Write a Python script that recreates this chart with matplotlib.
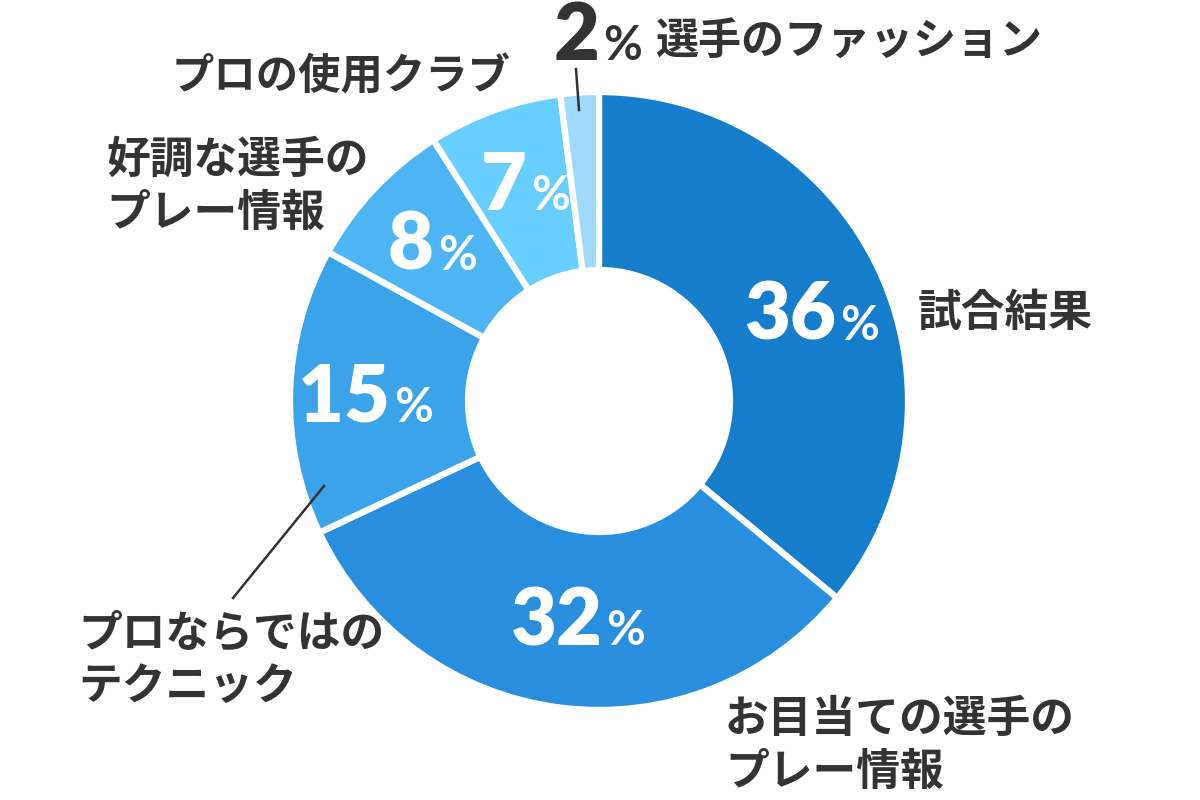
import matplotlib
matplotlib.use("Agg")
import matplotlib.pyplot as plt

categories = ["試合結果", "お目当ての選手の\nプレー情報", "プロならではの\nテクニック",
              "好調な選手の\nプレー情報", "プロの使用クラブ", "選手のファッション"]
values = [36, 32, 15, 8, 7, 2]
colors = ["#167dcd", "#2a8ede", "#3ba3ea", "#4db5f3", "#68cdff", "#9fd9fb"]

W, H = 1200, 800
fig = plt.figure(figsize=(12, 8), dpi=100)
ax = fig.add_axes([0, 0, 1, 1])
ax.set_xlim(0, W)
ax.set_ylim(0, H)
ax.set_aspect("equal")
ax.axis("off")

def Y(y):
    return H - y

cx, cy, R, r_in = 599, Y(401), 309, 131
ax.pie(values, colors=colors, startangle=90, counterclock=False,
       center=(cx, cy), radius=R, frame=True,
       wedgeprops=dict(width=R - r_in, edgecolor="white", linewidth=4.5))
ax.set_xlim(0, W)
ax.set_ylim(0, H)
ax.axis("off")

num_font = dict(family="Lato", weight="heavy")
pct_font = dict(family="Lato", weight="bold")
jp_font = dict(family=["Noto Sans CJK JP", "DejaVu Sans"], weight="bold")
dark = "#333333"

# percent labels: (anchor x between number and %, baseline y img, color)
pct_pos = [(836, 340, "white"), (602, 645, "white"), (390, 422, "white"),
           (434, 270, "white"), (527, 210, "white"), (599, 60, dark)]
for v, (x, y, c) in zip(values, pct_pos):
    ax.text(x, Y(y), str(v), ha="right", va="baseline", fontsize=57,
            color=c, **num_font)
    ax.text(x + 4, Y(y), "%", ha="left", va="baseline", fontsize=34,
            color=c, **pct_font)

# category labels
lab_pos = [(918, 313, 31.5), (725, 745, 31.5), (78, 660, 31.5),
           (106, 186, 31.5), (172, 78, 30.5), (655, 42, 31)]
for t, (x, y, fs) in zip(categories, lab_pos):
    ax.text(x, Y(y), t, ha="left", va="center", fontsize=fs, color=dark,
            linespacing=1.25, **jp_font)

# leader lines
ax.plot([324, 233], [Y(486), Y(598)], color=dark, lw=1.8)
ax.plot([576, 579], [Y(69), Y(110)], color=dark, lw=1.8)

fig.savefig("out.png", dpi=100, facecolor="white")
